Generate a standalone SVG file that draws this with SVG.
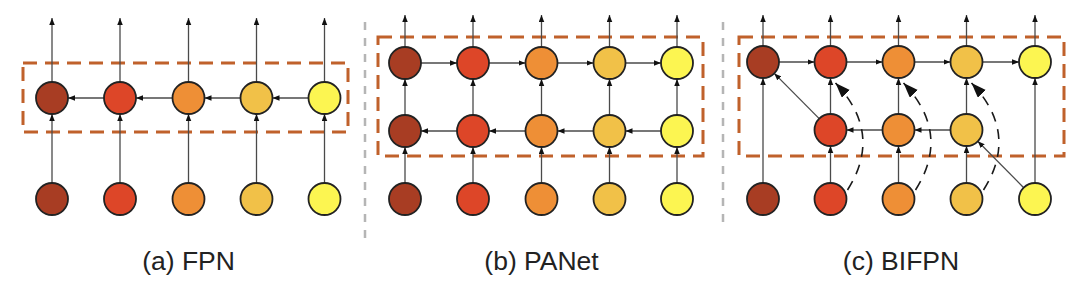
<svg xmlns="http://www.w3.org/2000/svg" width="1080" height="288" viewBox="0 0 1080 288">
<style>
.n{stroke:#222;stroke-width:1.8}
.c1{fill:#A83D23}.c2{fill:#DD4628}.c3{fill:#EE8F36}.c4{fill:#F1C148}.c5{fill:#FCF551}
.e{stroke:#4a4a4a;stroke-width:1.3;fill:none;marker-end:url(#a)}
.d{stroke:#1a1a1a;stroke-width:1.6;fill:none;stroke-dasharray:10 8;marker-end:url(#b)}
.box{fill:none;stroke:#C0612B;stroke-width:3;stroke-dasharray:14 8}
.sep{stroke:#B5B5B5;stroke-width:2.5;stroke-dasharray:8 8}
.lbl{font-family:"Liberation Sans",Arial,Helvetica,sans-serif;font-size:26.5px;fill:#222;text-anchor:middle}
</style>
<defs>
<marker id="a" markerUnits="userSpaceOnUse" markerWidth="8" markerHeight="6" refX="7" refY="2.75" orient="auto"><path d="M0,0 L7,2.75 L0,5.5 z" fill="#111"/></marker>
<marker id="b" markerUnits="userSpaceOnUse" markerWidth="16" markerHeight="12" refX="15" refY="5.5" orient="auto"><path d="M0,0 L15,5.5 L0,11 z" fill="#111"/></marker>
</defs>
<rect width="1080" height="288" fill="#fff"/>
<line class="sep" x1="365" y1="22" x2="365" y2="246"/>
<line class="sep" x1="723" y1="22" x2="723" y2="228"/>
<rect class="box" x="23" y="63" width="325" height="69"/>
<rect class="box" x="378" y="37" width="325" height="119"/>
<rect class="box" x="739" y="37" width="325" height="119"/>
<g id="connectors">
<!-- FPN -->
<path class="e" d="M52,82 V18"/><path class="e" d="M120,82 V18"/><path class="e" d="M188.5,82 V18"/><path class="e" d="M256.5,82 V18"/><path class="e" d="M324.5,82 V18"/>
<path class="e" d="M308.5,98 H272.5"/><path class="e" d="M240.5,98 H204.5"/><path class="e" d="M172.5,98 H136"/><path class="e" d="M104,98 H68"/>
<path class="e" d="M52,183 V114"/><path class="e" d="M120,183 V114"/><path class="e" d="M188.5,183 V114"/><path class="e" d="M256.5,183 V114"/><path class="e" d="M324.5,183 V114"/>
<!-- PANet -->
<path class="e" d="M405,47 V15"/><path class="e" d="M473,47 V15"/><path class="e" d="M541.5,47 V15"/><path class="e" d="M609.5,47 V15"/><path class="e" d="M677,47 V15"/>
<path class="e" d="M421,63 H457"/><path class="e" d="M489,63 H525.5"/><path class="e" d="M557.5,63 H593.5"/><path class="e" d="M625.5,63 H661"/>
<path class="e" d="M661,131 H625.5"/><path class="e" d="M593.5,131 H557.5"/><path class="e" d="M525.5,131 H489"/><path class="e" d="M457,131 H421"/>
<path class="e" d="M405,183 V147"/><path class="e" d="M473,183 V147"/><path class="e" d="M541.5,183 V147"/><path class="e" d="M609.5,183 V147"/><path class="e" d="M677,183 V147"/>
<path class="e" d="M405,115 V79"/><path class="e" d="M473,115 V79"/><path class="e" d="M541.5,115 V79"/><path class="e" d="M609.5,115 V79"/><path class="e" d="M677,115 V79"/>
<!-- BiFPN -->
<path class="e" d="M763,46 V15"/><path class="e" d="M830.5,46 V15"/><path class="e" d="M898.5,46 V15"/><path class="e" d="M966.5,46 V15"/><path class="e" d="M1035,46 V15"/>
<path class="e" d="M779,62 H814.5"/><path class="e" d="M846.5,62 H882.5"/><path class="e" d="M914.5,62 H950.5"/><path class="e" d="M982.5,62 H1019"/>
<path class="e" d="M950.5,130 H914.5"/><path class="e" d="M882.5,130 H846.5"/>
<path class="e" d="M763,183 V78"/><path class="e" d="M1035,183 V78"/>
<path class="e" d="M830.5,183 V146"/><path class="e" d="M898.5,183 V146"/><path class="e" d="M966.5,183 V146"/>
<path class="e" d="M830.5,114 V78"/><path class="e" d="M898.5,114 V78"/><path class="e" d="M966.5,114 V78"/>
<path class="e" d="M819.2,118.6 L774.3,73.4"/>
<path class="e" d="M1023.7,187.7 L977.8,141.3"/>
<path class="d" d="M847.5,190 Q883.5,133.5 835.5,83"/>
<path class="d" d="M915.5,190 Q951.5,133.5 903.5,83"/>
<path class="d" d="M983.5,190 Q1019.5,133.5 971.5,83"/>
</g>
<!-- FPN nodes -->
<g id="fpn-p7-in"><circle class="n c1" cx="52" cy="199" r="16"/></g>
<g id="fpn-p6-in"><circle class="n c2" cx="120" cy="199" r="16"/></g>
<g id="fpn-p5-in"><circle class="n c3" cx="188.5" cy="199" r="16"/></g>
<g id="fpn-p4-in"><circle class="n c4" cx="256.5" cy="199" r="16"/></g>
<g id="fpn-p3-in"><circle class="n c5" cx="324.5" cy="199" r="16"/></g>
<g id="fpn-p7-out"><circle class="n c1" cx="52" cy="98" r="16"/></g>
<g id="fpn-p6-out"><circle class="n c2" cx="120" cy="98" r="16"/></g>
<g id="fpn-p5-out"><circle class="n c3" cx="188.5" cy="98" r="16"/></g>
<g id="fpn-p4-out"><circle class="n c4" cx="256.5" cy="98" r="16"/></g>
<g id="fpn-p3-out"><circle class="n c5" cx="324.5" cy="98" r="16"/></g>
<!-- PANet nodes -->
<g id="pan-p7-in"><circle class="n c1" cx="405" cy="199" r="16"/></g>
<g id="pan-p6-in"><circle class="n c2" cx="473" cy="199" r="16"/></g>
<g id="pan-p5-in"><circle class="n c3" cx="541.5" cy="199" r="16"/></g>
<g id="pan-p4-in"><circle class="n c4" cx="609.5" cy="199" r="16"/></g>
<g id="pan-p3-in"><circle class="n c5" cx="677" cy="199" r="16"/></g>
<g id="pan-p7-mid"><circle class="n c1" cx="405" cy="131" r="16"/></g>
<g id="pan-p6-mid"><circle class="n c2" cx="473" cy="131" r="16"/></g>
<g id="pan-p5-mid"><circle class="n c3" cx="541.5" cy="131" r="16"/></g>
<g id="pan-p4-mid"><circle class="n c4" cx="609.5" cy="131" r="16"/></g>
<g id="pan-p3-mid"><circle class="n c5" cx="677" cy="131" r="16"/></g>
<g id="pan-p7-out"><circle class="n c1" cx="405" cy="63" r="16"/></g>
<g id="pan-p6-out"><circle class="n c2" cx="473" cy="63" r="16"/></g>
<g id="pan-p5-out"><circle class="n c3" cx="541.5" cy="63" r="16"/></g>
<g id="pan-p4-out"><circle class="n c4" cx="609.5" cy="63" r="16"/></g>
<g id="pan-p3-out"><circle class="n c5" cx="677" cy="63" r="16"/></g>
<!-- BiFPN nodes -->
<g id="bi-p7-in"><circle class="n c1" cx="763" cy="199" r="16"/></g>
<g id="bi-p6-in"><circle class="n c2" cx="830.5" cy="199" r="16"/></g>
<g id="bi-p5-in"><circle class="n c3" cx="898.5" cy="199" r="16"/></g>
<g id="bi-p4-in"><circle class="n c4" cx="966.5" cy="199" r="16"/></g>
<g id="bi-p3-in"><circle class="n c5" cx="1035" cy="199" r="16"/></g>
<g id="bi-p6-mid"><circle class="n c2" cx="830.5" cy="130" r="16"/></g>
<g id="bi-p5-mid"><circle class="n c3" cx="898.5" cy="130" r="16"/></g>
<g id="bi-p4-mid"><circle class="n c4" cx="966.5" cy="130" r="16"/></g>
<g id="bi-p7-out"><circle class="n c1" cx="763" cy="62" r="16"/></g>
<g id="bi-p6-out"><circle class="n c2" cx="830.5" cy="62" r="16"/></g>
<g id="bi-p5-out"><circle class="n c3" cx="898.5" cy="62" r="16"/></g>
<g id="bi-p4-out"><circle class="n c4" cx="966.5" cy="62" r="16"/></g>
<g id="bi-p3-out"><circle class="n c5" cx="1035" cy="62" r="16"/></g>
<text class="lbl" x="188.5" y="270">(a) FPN</text>
<text class="lbl" x="541.5" y="270">(b) PANet</text>
<text class="lbl" x="901" y="270">(c) BIFPN</text>
</svg>
